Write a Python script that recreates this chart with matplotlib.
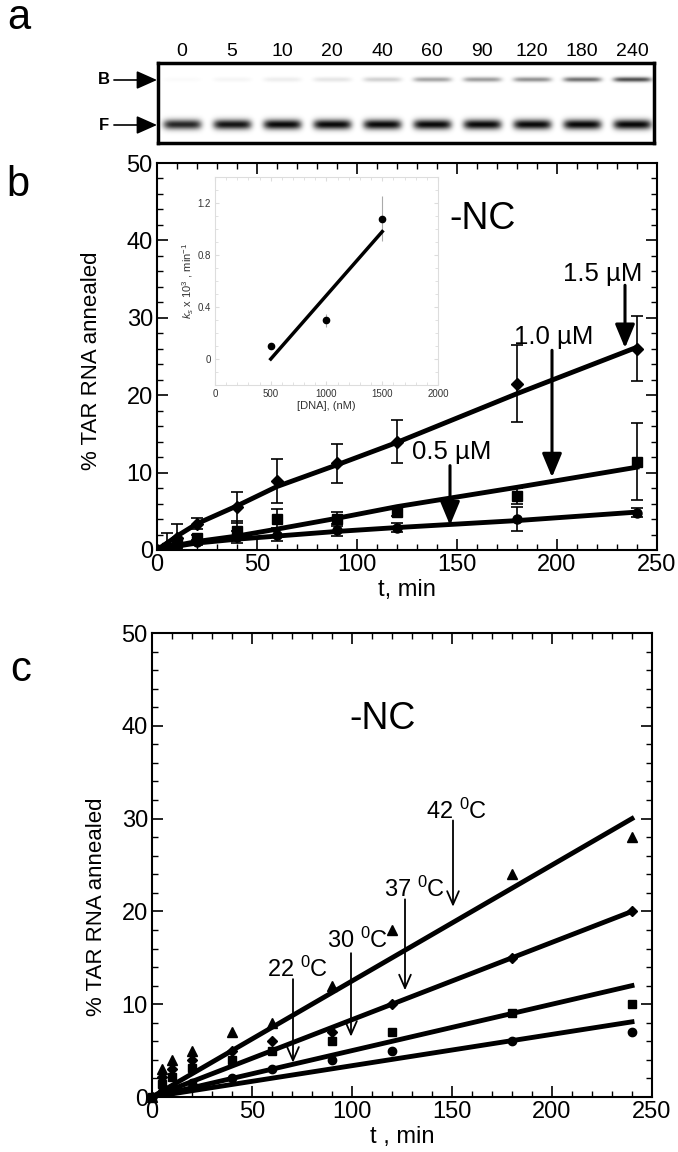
import numpy as np
import matplotlib
matplotlib.use("Agg")
from matplotlib import pyplot as plt
from matplotlib.ticker import MultipleLocator

plt.rcParams['font.family'] = ['Liberation Sans', 'DejaVu Sans']
plt.rcParams['mathtext.fontset'] = 'custom'
plt.rcParams['mathtext.rm'] = 'Liberation Sans'
plt.rcParams['mathtext.it'] = 'Liberation Sans:italic'

# --- panel a: gel lanes (relative band darkness)
lane_times = ["0", "5", "10", "20", "40", "60", "90", "120", "180", "240"]
bound_band = [0.02, 0.04, 0.07, 0.10, 0.18, 0.35, 0.38, 0.42, 0.55, 0.68]
free_band = [0.85, 0.92, 0.96, 0.96, 0.96, 0.96, 0.96, 0.96, 0.97, 0.97]

# --- panel b: annealing vs time at three DNA concentrations
t_b = [0, 5, 10, 20, 40, 60, 90, 120, 180, 240]
y_15 = [0, 0.5, 1.5, 3.4, 5.5, 8.9, 11.2, 14.0, 21.5, 26.0]
e_15 = [0, 1.7, 1.8, 0.7, 2.0, 2.8, 2.5, 2.8, 5.0, 4.2]
y_10 = [0, 0.3, 1.0, 1.5, 2.5, 4.0, 4.0, 4.9, 7.0, 11.4]
e_10 = [0, 0.3, 0.5, 0.5, 1.2, 1.3, 0.9, 0.5, 1.0, 5.0]
y_05 = [0, 0.2, 0.5, 1.0, 1.7, 2.0, 2.6, 2.9, 4.0, 4.8]
e_05 = [0, 0.2, 0.3, 0.3, 0.8, 0.8, 0.8, 0.6, 1.5, 0.6]
# fitted curves
t_fit_b = [0, 10, 20, 40, 60, 90, 120, 180, 240]
fit_15 = [0, 1.8, 3.4, 5.7, 8.2, 11.0, 13.9, 20.2, 26.2]
fit_10 = [0, 0.6, 1.1, 1.8, 2.7, 4.1, 5.6, 8.1, 10.7]
fit_05 = [0, 0.5, 0.9, 1.4, 1.8, 2.4, 2.9, 3.8, 4.9]

# inset: rate constant vs [DNA]
dna_nM = [500, 1000, 1500]
ks = [0.10, 0.30, 1.08]
ks_err = [0.0, 0.05, 0.17]
ks_fit_x = [500, 1500]
ks_fit_y = [0.0, 0.98]

# --- panel c: annealing vs time at four temperatures
t_c = [0, 5, 10, 20, 40, 60, 90, 120, 180, 240]
y_42 = [0, 3.0, 4.0, 5.0, 7.0, 8.0, 12.0, 18.0, 24.0, 28.0]
y_37 = [0, 2.2, 3.0, 4.0, 5.0, 6.0, 7.0, 10.0, 15.0, 20.0]
y_30 = [0, 1.4, 2.2, 3.1, 4.0, 5.0, 6.0, 7.0, 9.0, 10.0]
y_22 = [0, 0.5, 1.0, 1.5, 2.0, 3.0, 4.0, 5.0, 6.0, 7.0]
t_fit_c = [0, 240]
fit_42 = [0, 30.0]
fit_37 = [0, 20.0]
fit_30 = [0, 12.0]
fit_22 = [0, 8.1]


def style_axes(ax):
    ax.set_xlim(0, 250)
    ax.set_ylim(0, 50)
    ax.xaxis.set_major_locator(MultipleLocator(50))
    ax.xaxis.set_minor_locator(MultipleLocator(10))
    ax.yaxis.set_major_locator(MultipleLocator(10))
    ax.yaxis.set_minor_locator(MultipleLocator(2))
    ax.tick_params(which='both', direction='in', top=True, right=True,
                   labelsize=17, pad=3)
    ax.tick_params(which='major', length=8, width=1.2)
    ax.tick_params(which='minor', length=4.5, width=1)
    for s in ax.spines.values():
        s.set_linewidth(1.5)


fig = plt.figure(figsize=(6.78, 11.52), dpi=100)

# ---------------- panel a
axa = fig.add_axes([158/678, 1-143/1152, 496/678, 80/1152])
gel_w, gel_h = 496, 80
xx, yy = np.meshgrid(np.arange(gel_w), np.arange(gel_h))
img = np.zeros((gel_h, gel_w))
for i in range(len(lane_times)):
    xc = 24 + 50*i
    across = np.exp(-((xx - xc)/19.0)**6)
    img += bound_band[i]*across*np.exp(-((yy - 63)/2.5)**2)
    img += free_band[i]*across*np.exp(-((yy - 18)/5.0)**2)
axa.imshow(img, cmap='gray_r', vmin=0, vmax=1, extent=[0, gel_w, 0, gel_h],
           origin='lower', aspect='auto', interpolation='bilinear')
axa.set_xlim(0, gel_w)
axa.set_ylim(0, gel_h)
axa.set_xticks([24 + 50*i for i in range(len(lane_times))])
axa.set_xticklabels(lane_times)
axa.xaxis.tick_top()
axa.tick_params(axis='x', length=0, labelsize=14, pad=2)
axa.set_yticks([])
for s in axa.spines.values():
    s.set_linewidth(2.5)
for lab, yb in (("B", 63), ("F", 18)):
    axa.annotate(lab, xy=(0, yb), xytext=(-39, 0), textcoords='offset points',
                 ha='center', va='center', fontsize=12, fontweight='bold',
                 annotation_clip=False)
    axa.annotate('', xy=(-1, yb), xytext=(-31, 0), textcoords='offset points',
                 annotation_clip=False,
                 arrowprops=dict(arrowstyle='-|>,head_length=0.9,head_width=0.4',
                                 mutation_scale=14, lw=1.2, color='k',
                                 shrinkA=0, shrinkB=0))

# ---------------- panel b
axb = fig.add_axes([157/678, 1-550/1152, 500/678, 387/1152])
style_axes(axb)
for y, e in ((y_15, e_15), (y_10, e_10), (y_05, e_05)):
    axb.errorbar(t_b, y, yerr=e, fmt='none', ecolor='k', elinewidth=1.2,
                 capsize=4, capthick=1.2)
axb.plot(t_fit_b, fit_15, 'k-', lw=3.5)
axb.plot(t_fit_b, fit_10, 'k-', lw=3.5)
axb.plot(t_fit_b, fit_05, 'k-', lw=3.5)
axb.plot(t_b, y_15, 'kD', ms=6.5)
axb.plot(t_b, y_10, 'ks', ms=7)
axb.plot(t_b, y_05, 'ko', ms=6.5)
axb.set_xlabel("t, min", fontsize=17, labelpad=2)
axb.set_ylabel("% TAR RNA annealed", fontsize=16)
axb.yaxis.set_label_coords(-0.11, 0.49)
axb.text(163, 42.8, "-NC", fontsize=27, ha='center', va='center')

big_head = dict(arrowstyle='-|>,head_length=1.2,head_width=0.5',
                mutation_scale=12, lw=2.2, color='k', shrinkA=0, shrinkB=0)
for txt, tx, ty, ax_x, y0, y1 in (("1.5 µM", 223, 35.6, 234, 34.2, 26.1),
                                   ("1.0 µM", 198.5, 27.5, 197.5, 25.8, 9.4),
                                   ("0.5 µM", 147.5, 12.6, 146.5, 10.9, 3.2)):
    axb.text(tx, ty, txt, fontsize=18.5, ha='center', va='center')
    axb.annotate('', xy=(ax_x, y1), xytext=(ax_x, y0), arrowprops=big_head)

# inset
axi = fig.add_axes([215/678, 1-385/1152, 223/678, 208/1152])
axi.errorbar(dna_nM, ks, yerr=ks_err, fmt='none', ecolor='#aaaaaa',
             elinewidth=0.8, capsize=0)
axi.plot(ks_fit_x, ks_fit_y, 'k-', lw=2.5)
axi.plot(dna_nM, ks, 'ko', ms=4.5)
axi.set_xlim(0, 2000)
axi.set_ylim(-0.2, 1.4)
axi.xaxis.set_major_locator(MultipleLocator(500))
axi.xaxis.set_minor_locator(MultipleLocator(100))
axi.yaxis.set_minor_locator(MultipleLocator(0.1))
axi.set_yticks([0, 0.4, 0.8, 1.2])
axi.set_yticklabels(["0", "0.4", "0.8", "1.2"])
axi.tick_params(which='both', direction='in', top=True, right=True,
                labelsize=7, colors='#dddddd', labelcolor='#333333', pad=3)
axi.tick_params(which='major', length=3)
axi.tick_params(which='minor', length=2)
for s in axi.spines.values():
    s.set_color('#dddddd')
    s.set_linewidth(0.8)
axi.set_xlabel("[DNA], (nM)", fontsize=8, color='#333333', labelpad=1)
axi.set_ylabel(r"$k_{s}$ x 10$^{3}$ , min$^{-1}$", fontsize=8,
               color='#333333', labelpad=1)

# ---------------- panel c
axc = fig.add_axes([152/678, 1-1097/1152, 500/678, 464/1152])
style_axes(axc)
axc.plot(t_fit_c, fit_42, 'k-', lw=3.5)
axc.plot(t_fit_c, fit_37, 'k-', lw=3.5)
axc.plot(t_fit_c, fit_30, 'k-', lw=3.5)
axc.plot(t_fit_c, fit_22, 'k-', lw=3.5)
axc.plot(t_c, y_42, 'k^', ms=6.5, clip_on=False)
axc.plot(t_c, y_37, 'kD', ms=5, clip_on=False)
axc.plot(t_c, y_30, 'ks', ms=6, clip_on=False)
axc.plot(t_c, y_22, 'ko', ms=6, clip_on=False)
axc.set_xlabel("t , min", fontsize=17, labelpad=2)
axc.set_ylabel("% TAR RNA annealed", fontsize=16)
axc.yaxis.set_label_coords(-0.09, 0.41)
axc.text(115.5, 40.7, "-NC", fontsize=27, ha='center', va='center')

thin_head = dict(arrowstyle='->,head_length=0.8,head_width=0.35',
                 mutation_scale=12, lw=1.3, color='k', shrinkA=0, shrinkB=0)
for txt, tx, ty, ax_x, y0, y1 in (("42 $^{0}$C", 152.5, 30.0, 150.5, 29.8, 20.5),
                                   ("37 $^{0}$C", 131.5, 21.6, 126.5, 21.3, 11.5),
                                   ("30 $^{0}$C", 102.8, 16.1, 99.5, 15.5, 6.5),
                                   ("22 $^{0}$C", 73.0, 12.9, 70.5, 12.7, 3.7)):
    axc.text(tx, ty, txt, fontsize=17, ha='center', va='baseline')
    axc.annotate('', xy=(ax_x, y1), xytext=(ax_x, y0), arrowprops=thin_head)

# panel letters
fig.text(19/678, 1-18/1152, "a", fontsize=30, ha='center', va='center')
fig.text(18/678, 1-185/1152, "b", fontsize=30, ha='center', va='center')
fig.text(21/678, 1-670/1152, "c", fontsize=30, ha='center', va='center')

fig.savefig("out.png", dpi=100)
